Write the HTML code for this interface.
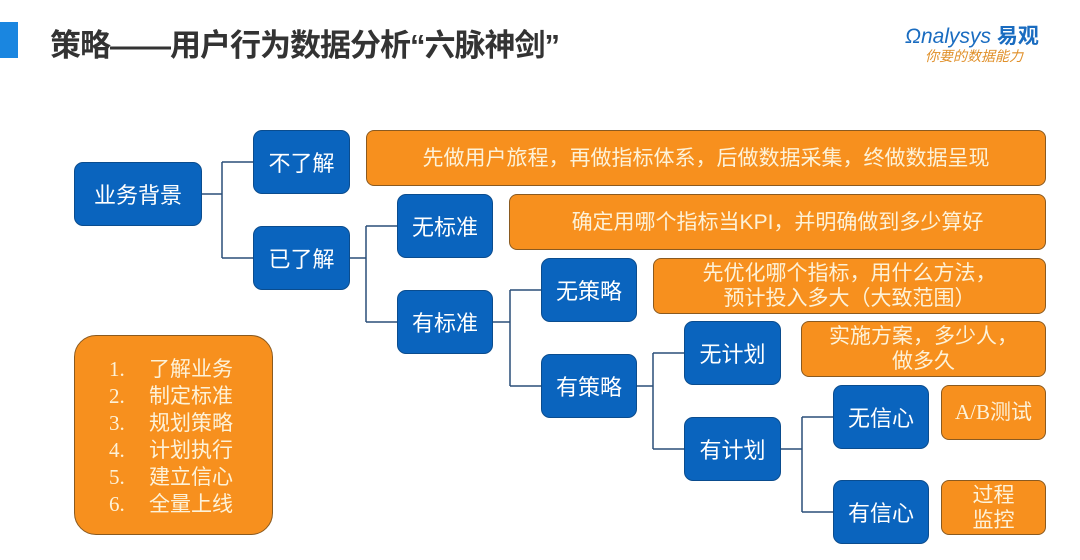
<!DOCTYPE html>
<html><head><meta charset="utf-8"><style>
body{margin:0;width:1080px;height:560px;background:#fff;position:relative;overflow:hidden;font-family:"Liberation Sans","Noto Sans CJK SC",sans-serif}
.b{position:absolute;background:#0a64be;border:1px solid #0a4c8e;border-radius:9px;color:#fff;font-size:22px;display:flex;align-items:center;justify-content:center;box-sizing:border-box}
.o{position:absolute;background:#f7901e;border:1px solid #8a5a20;border-radius:8px;color:#fdf2d8;font-size:21px;display:flex;align-items:center;justify-content:center;text-align:center;line-height:25px;box-sizing:border-box}
</style></head><body>
<div style="position:absolute;left:0;top:22px;width:18px;height:36px;background:#1a86e0"></div>
<div style="position:absolute;left:50px;top:20px;font-size:31px;font-weight:bold;color:#333;letter-spacing:-1px">策略——用户行为数据分析“六脉神剑”</div>
<div style="position:absolute;left:905px;top:20px;font-size:21px;color:#1a6cc0;font-style:italic">Ωnalysys <b style="font-style:normal">易观</b></div>
<div style="position:absolute;left:925px;top:46px;font-size:14px;color:#e0902a;font-style:italic">你要的数据能力</div>
<svg style="position:absolute;left:0;top:0" width="1080" height="560"><g fill="none" stroke="#2a4e78" stroke-width="1.5">
<path d="M202 194H222M222 162V258M222 162H253M222 258H253"/>
<path d="M350 258H366M366 226V322M366 226H397M366 322H397"/>
<path d="M493 322H510M510 290V386M510 290H541M510 386H541"/>
<path d="M637 386H653M653 353V449M653 353H684M653 449H684"/>
<path d="M781 449H802M802 417V512M802 417H833M802 512H833"/>
</g></svg>
<div class="b" style="left:74px;top:162px;width:128px;height:64px">业务背景</div>
<div class="b" style="left:253px;top:130px;width:97px;height:64px">不了解</div>
<div class="b" style="left:253px;top:226px;width:97px;height:64px">已了解</div>
<div class="b" style="left:397px;top:194px;width:96px;height:64px">无标准</div>
<div class="b" style="left:397px;top:290px;width:96px;height:64px">有标准</div>
<div class="b" style="left:541px;top:258px;width:96px;height:64px">无策略</div>
<div class="b" style="left:541px;top:354px;width:96px;height:64px">有策略</div>
<div class="b" style="left:684px;top:321px;width:97px;height:64px">无计划</div>
<div class="b" style="left:684px;top:417px;width:97px;height:64px">有计划</div>
<div class="b" style="left:833px;top:385px;width:96px;height:64px">无信心</div>
<div class="b" style="left:833px;top:480px;width:96px;height:64px">有信心</div>
<div class="o" style="left:366px;top:130px;width:680px;height:56px">先做用户旅程，再做指标体系，后做数据采集，终做数据呈现</div>
<div class="o" style="left:509px;top:194px;width:537px;height:56px">确定用哪个指标当KPI，并明确做到多少算好</div>
<div class="o" style="left:653px;top:258px;width:393px;height:56px">先优化哪个指标，用什么方法，<br>预计投入多大（大致范围）</div>
<div class="o" style="left:801px;top:321px;width:245px;height:56px">实施方案，多少人，<br>做多久</div>
<div class="o" style="left:941px;top:385px;width:105px;height:55px;font-family:'Liberation Serif','Noto Sans CJK SC',serif">A/B测试</div>
<div class="o" style="left:941px;top:480px;width:105px;height:55px">过程<br>监控</div>
<div class="o" style="left:74px;top:335px;width:199px;height:200px;border-radius:22px;display:block;padding-top:20px;font-size:21px;line-height:26px;text-align:left">
<div style="padding-left:34px"><span style="display:inline-block;width:40px;font-family:'Liberation Serif',serif">1.</span>了解业务</div>
<div style="padding-left:34px"><span style="display:inline-block;width:40px;font-family:'Liberation Serif',serif">2.</span>制定标准</div>
<div style="padding-left:34px"><span style="display:inline-block;width:40px;font-family:'Liberation Serif',serif">3.</span>规划策略</div>
<div style="padding-left:34px"><span style="display:inline-block;width:40px;font-family:'Liberation Serif',serif">4.</span>计划执行</div>
<div style="padding-left:34px"><span style="display:inline-block;width:40px;font-family:'Liberation Serif',serif">5.</span>建立信心</div>
<div style="padding-left:34px"><span style="display:inline-block;width:40px;font-family:'Liberation Serif',serif">6.</span>全量上线</div>
</div>
</body></html>
